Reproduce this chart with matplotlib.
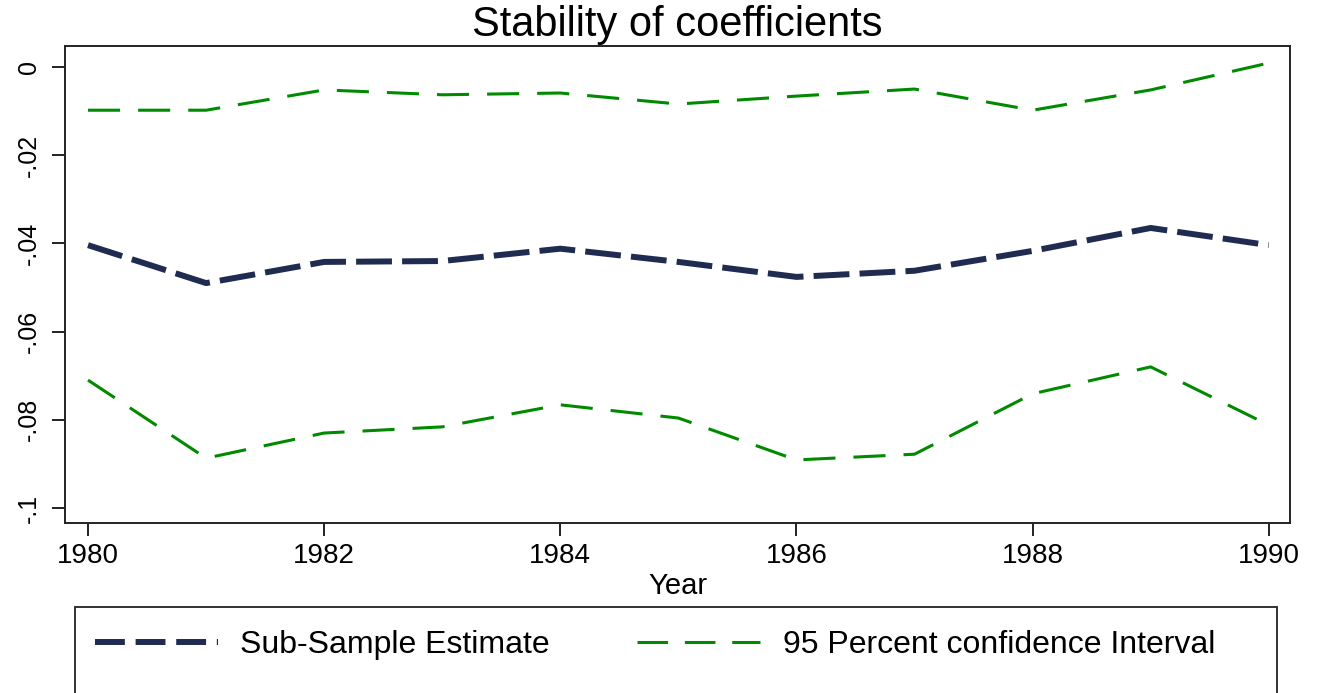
import matplotlib
matplotlib.use("Agg")
import matplotlib.pyplot as plt
from matplotlib.patches import Rectangle
from matplotlib.lines import Line2D

plt.rcParams['font.family'] = ['Liberation Sans', 'DejaVu Sans']

years = [1980, 1981, 1982, 1983, 1984, 1985, 1986, 1987, 1988, 1989, 1990]
estimate = [-0.0404, -0.0490, -0.0442, -0.0440, -0.0412, -0.0442, -0.0476, -0.0462, -0.0417, -0.0365, -0.0404]
upper_ci = [-0.0098, -0.0098, -0.0052, -0.0063, -0.0059, -0.0084, -0.0066, -0.0050, -0.0098, -0.0052, 0.0009]
lower_ci = [-0.0710, -0.0887, -0.0830, -0.0816, -0.0766, -0.0796, -0.0891, -0.0878, -0.0741, -0.0680, -0.0812]

xticks = [1980, 1982, 1984, 1986, 1988, 1990]
yticks = [0, -0.02, -0.04, -0.06, -0.08, -0.1]
ytick_labels = ["0", "-.02", "-.04", "-.06", "-.08", "-.1"]

title = "Stability of coefficients"
xlabel = "Year"
label_est = "Sub-Sample Estimate"
label_ci = "95 Percent confidence Interval"

navy = "#1f2b50"
green = "#008a00"

W, H = 1323, 693
fig = plt.figure(figsize=(W / 100, H / 100), dpi=100)
fig.patch.set_facecolor("white")

ax = fig.add_axes([65 / W, 1 - 523 / H, (1290 - 65) / W, (523 - 46) / H])

l_est, = ax.plot(years, estimate, color=navy, lw=4.3, dashes=(6.0, 1.7),
                 solid_capstyle='butt', dash_capstyle='butt')
l_ci, = ax.plot(years, upper_ci, color=green, lw=2.2, dashes=(10.5, 5.9),
                dash_capstyle='butt')
ax.plot(years, lower_ci, color=green, lw=2.2, dashes=(10.5, 5.9),
        dash_capstyle='butt')

ax.set_xlim(1979.805, 1990.18)
ax.set_ylim(-0.1034, 0.00476)
ax.set_xticks(xticks)
ax.set_xticklabels([str(x) for x in xticks], fontsize=20)
ax.set_yticks(yticks)
ax.set_yticklabels(ytick_labels, fontsize=18, rotation=90, va='center')
ax.tick_params(axis='both', direction='out', length=9.5, width=1.4, color='#222222')
ax.tick_params(axis='x', pad=5)
ax.tick_params(axis='y', pad=8)
ax.minorticks_off()
for s in ax.spines.values():
    s.set_linewidth(1.4)
    s.set_color('#222222')

ax.set_title(title, fontsize=30, pad=7)
ax.set_xlabel(xlabel, fontsize=21, labelpad=2)

# legend box
fig.patches.append(Rectangle((75 / W, -0.05), (1277 - 75) / W, 1 - 607 / H + 0.05,
                             transform=fig.transFigure, fill=False,
                             edgecolor='#333333', lw=1.4))

h_est = Line2D([], [], color=navy, lw=4.3, dashes=(5.0, 1.8))
h_ci = Line2D([], [], color=green, lw=2.2, dashes=(10.0, 5.5))
fig.legend([h_est, h_ci], [label_est, label_ci], loc='center left',
           bbox_to_anchor=(95 / W, 1 - 645 / H), ncol=2, frameon=False,
           fontsize=23, handlelength=3.86, handletextpad=0.69,
           columnspacing=2.73, borderpad=0, borderaxespad=0)

fig.savefig("out.png", dpi=100, facecolor="white")
